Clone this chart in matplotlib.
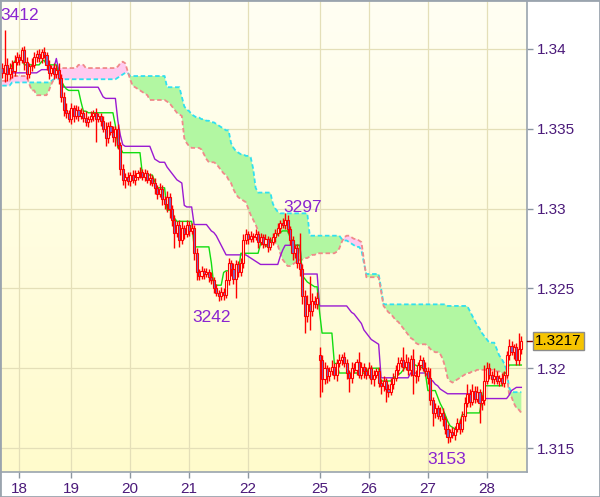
import matplotlib
matplotlib.use("Agg")
import matplotlib.pyplot as plt
import matplotlib.transforms as mtransforms
from matplotlib.patches import Rectangle
import numpy as np

# ---------------- data (prices in pips: 3385 -> 1.3385) ----------------
closes = [
    3385, 3390, 3384, 3388, 3386, 3392, 3395, 3393, 3399, 3392,
    3384, 3389, 3390, 3395, 3397, 3394, 3398, 3396, 3390, 3385,
    3388, 3384, 3387, 3382, 3370, 3362, 3360, 3356, 3363, 3358,
    3362, 3358, 3360, 3357, 3354, 3356, 3358, 3360, 3356, 3358,
    3355, 3350, 3344, 3352, 3348, 3345, 3350, 3340, 3325, 3318,
    3320, 3317, 3321, 3318, 3320, 3322, 3323, 3320, 3322, 3318,
    3319, 3316, 3313, 3309, 3312, 3306, 3303, 3307, 3300, 3293,
    3285, 3290, 3280, 3288, 3284, 3290, 3286, 3288, 3272, 3260,
    3258, 3261, 3259, 3260, 3257, 3255, 3250, 3247, 3245, 3248,
    3246, 3255, 3266, 3262, 3256, 3265, 3260, 3266, 3280, 3284,
    3281, 3283, 3282, 3284, 3279, 3282, 3278, 3281, 3276, 3279,
    3282, 3285, 3288, 3291, 3290, 3293, 3287, 3280, 3272, 3275,
    3266, 3262, 3245, 3233, 3240, 3236, 3242, 3240, 3244, 3205,
    3193, 3200, 3195, 3198, 3201, 3196, 3203, 3205, 3207, 3203,
    3197, 3194, 3200, 3199, 3204, 3196, 3201, 3198, 3196, 3200,
    3193, 3196, 3198, 3191, 3189, 3192, 3187, 3185, 3190, 3194,
    3199, 3203, 3205, 3201, 3204, 3199, 3206, 3196, 3195, 3202,
    3205, 3200, 3198, 3194, 3180, 3172, 3175, 3170, 3172, 3168,
    3162, 3157, 3160, 3158, 3162, 3166, 3162, 3170, 3178, 3184,
    3179, 3186, 3181, 3185, 3178, 3180, 3192, 3200, 3196, 3193,
    3195, 3192, 3194, 3191, 3196, 3208, 3214, 3210, 3213, 3205,
    3212, 3217,
]
first_open = 3388
gap_open = {129: 3208}   # monday open after the weekend gap

wick_up = [
    3, 22, 4, 3, 5, 4, 3, 2, 2, 3,
    3, 2, 4, 3, 2, 3, 2, 3, 2, 3,
    2, 3, 3, 4, 2, 3, 4, 2, 3, 2,
    3, 2, 3, 2, 4, 2, 3, 2, 3, 2,
    2, 3, 4, 2, 3, 4, 2, 3, 2, 3,
    2, 3, 2, 3, 4, 2, 3, 2, 3, 2,
    3, 2, 3, 2, 4, 3, 2, 4, 3, 2,
    3, 2, 3, 4, 2, 3, 2, 3, 2, 3,
    2, 3, 2, 3, 2, 3, 2, 3, 2, 3,
    2, 6, 3, 2, 4, 3, 2, 3, 4, 3,
    2, 3, 2, 3, 2, 3, 2, 3, 2, 3,
    3, 2, 3, 2, 3, 4, 3, 2, 3, 2,
    3, 19, 3, 4, 6, 18, 5, 3, 4, 5,
    3, 4, 2, 3, 4, 2, 3, 4, 2, 3,
    3, 2, 4, 3, 2, 6, 3, 2, 3, 4,
    2, 3, 2, 3, 2, 3, 2, 3, 4, 3,
    3, 4, 2, 8, 5, 3, 2, 6, 3, 2,
    3, 2, 4, 3, 6, 2, 3, 2, 4, 3,
    2, 3, 2, 3, 2, 3, 2, 3, 4, 6,
    3, 4, 3, 4, 2, 3, 10, 4, 3, 2,
    5, 3, 2, 3, 2, 3, 4, 3, 2, 3,
    10, 3,
]
wick_dn = [
    3, 6, 4, 3, 4, 3, 2, 3, 2, 5,
    3, 2, 3, 2, 3, 2, 3, 2, 3, 4,
    2, 3, 2, 4, 3, 4, 3, 2, 3, 4,
    2, 3, 2, 3, 2, 3, 2, 3, 14, 2,
    3, 2, 5, 3, 2, 3, 6, 3, 4, 3,
    5, 2, 3, 2, 3, 2, 3, 2, 3, 2,
    3, 2, 4, 3, 2, 4, 3, 5, 6, 4,
    10, 3, 4, 2, 3, 2, 3, 2, 4, 5,
    3, 2, 3, 2, 3, 2, 3, 2, 3, 2,
    3, 2, 3, 4, 3, 12, 3, 2, 3, 2,
    3, 2, 3, 2, 4, 2, 3, 2, 3, 2,
    2, 3, 2, 3, 2, 3, 2, 3, 4, 3,
    3, 4, 5, 11, 4, 12, 3, 2, 3, 23,
    8, 3, 4, 3, 2, 3, 4, 2, 3, 2,
    4, 9, 3, 2, 3, 2, 3, 4, 3, 2,
    3, 4, 2, 3, 5, 3, 8, 3, 2, 3,
    2, 3, 2, 3, 2, 3, 4, 12, 4, 3,
    3, 2, 3, 4, 3, 8, 3, 2, 3, 4,
    3, 4, 3, 2, 3, 2, 3, 2, 3, 2,
    3, 2, 3, 2, 12, 4, 3, 2, 3, 2,
    3, 2, 3, 2, 3, 2, 3, 2, 4, 3,
    3, 3,
]

tenkan = [
    3387, 3387, 3387, 3387, 3390, 3392, 3394, 3394, 3394, 3390,
    3390, 3390, 3390, 3390, 3390, 3390, 3392, 3393, 3390, 3390,
    3390, 3390, 3390, 3384, 3380, 3377, 3375, 3374, 3374, 3374,
    3374, 3374, 3367, 3361, 3361, 3360, 3360, 3360, 3360, 3360,
    3360, 3360, 3360, 3360, 3360, 3360, 3352, 3338, 3338, 3335,
    3335, 3335, 3335, 3335, 3335, 3335, 3335, 3321, 3321, 3321,
    3321, 3321, 3317, 3313, 3313, 3313, 3313, 3299, 3299, 3299,
    3294, 3292, 3292, 3292, 3292, 3292, 3292, 3292, 3276, 3276,
    3276, 3276, 3276, 3276, 3276, 3266, 3252, 3252, 3252, 3252,
    3260, 3261, 3261, 3261, 3261, 3261, 3261, 3272, 3272, 3272,
    3272, 3272, 3272, 3272, 3272, 3278, 3278, 3277, 3276, 3279,
    3281, 3282, 3284, 3285, 3286, 3286, 3286, 3282, 3280, 3277,
    3277, 3277, 3258, 3256, 3254, 3253, 3252, 3251, 3251, 3235,
    3222, 3222, 3222, 3222, 3222, 3203, 3203, 3197, 3197, 3197,
    3197, 3197, 3197, 3197, 3197, 3197, 3197, 3197, 3197, 3200,
    3200, 3200, 3200, 3200, 3192, 3192, 3192, 3192, 3192, 3194,
    3195, 3196, 3197, 3199, 3201, 3202, 3202, 3202, 3202, 3201,
    3201, 3200, 3197, 3186, 3186, 3186, 3186, 3182, 3178, 3175,
    3171, 3167, 3164, 3163, 3162, 3162, 3166, 3171, 3171, 3172,
    3172, 3172, 3172, 3172, 3172, 3180, 3189, 3189, 3189, 3189,
    3189, 3189, 3189, 3189, 3197, 3197, 3202, 3202, 3202, 3202,
    3202, 3202,
]
kijun = [
    3385, 3385, 3385, 3385, 3385, 3385, 3385, 3385, 3385, 3385,
    3385, 3385, 3385, 3385, 3385, 3386, 3387, 3387, 3387, 3387,
    3387, 3388, 3394, 3386, 3380, 3376, 3376, 3376, 3376, 3376,
    3376, 3376, 3376, 3376, 3376, 3376, 3376, 3376, 3376, 3376,
    3373, 3370, 3369, 3369, 3369, 3369, 3369, 3355, 3346, 3340,
    3339, 3339, 3339, 3339, 3339, 3339, 3339, 3339, 3339, 3339,
    3339, 3335, 3331, 3330, 3329, 3329, 3329, 3326, 3324, 3322,
    3320, 3318, 3317, 3316, 3302, 3301, 3301, 3301, 3290, 3290,
    3290, 3290, 3290, 3290, 3288, 3286, 3285, 3283, 3280, 3277,
    3274, 3271, 3271, 3271, 3271, 3271, 3271, 3271, 3271, 3271,
    3270, 3269, 3268, 3267, 3266, 3265, 3265, 3265, 3265, 3265,
    3265, 3265, 3265, 3270, 3274, 3277, 3277, 3277, 3277, 3277,
    3277, 3277, 3259, 3259, 3259, 3259, 3259, 3259, 3259, 3239,
    3239, 3239, 3239, 3239, 3239, 3239, 3239, 3239, 3239, 3239,
    3239, 3237, 3235, 3234, 3232, 3230, 3228, 3224, 3222, 3220,
    3218, 3217, 3216, 3215, 3194, 3194, 3194, 3194, 3194, 3194,
    3194, 3194, 3194, 3194, 3194, 3194, 3197, 3197, 3197, 3197,
    3197, 3197, 3197, 3195, 3193, 3192, 3190, 3189, 3187, 3186,
    3185, 3184, 3184, 3184, 3184, 3184, 3184, 3184, 3184, 3184,
    3184, 3184, 3184, 3184, 3184, 3181, 3181, 3181, 3181, 3181,
    3181, 3181, 3181, 3181, 3181, 3181, 3183, 3186, 3187, 3188,
    3188, 3188,
]
span_a = [
    3377, 3377, 3377, 3377, 3379, 3379, 3379, 3379, 3379, 3379,
    3379, 3379, 3379, 3379, 3379, 3379, 3379, 3379, 3379, 3379,
    3380, 3381, 3381, 3381, 3381, 3381, 3381, 3381, 3381, 3381,
    3381, 3381, 3381, 3381, 3381, 3381, 3381, 3381, 3381, 3381,
    3381, 3381, 3381, 3381, 3381, 3381, 3381, 3382, 3383, 3384,
    3385, 3385, 3383, 3383, 3383, 3383, 3383, 3383, 3383, 3383,
    3383, 3383, 3383, 3383, 3383, 3383, 3383, 3376, 3376, 3376,
    3376, 3376, 3376, 3370, 3364, 3362, 3361, 3359, 3358, 3357,
    3357, 3356, 3356, 3355, 3355, 3354, 3354, 3353, 3352, 3351,
    3350, 3349, 3349, 3341, 3338, 3336, 3335, 3334, 3334, 3333,
    3333, 3332, 3325, 3313, 3310, 3310, 3310, 3310, 3310, 3310,
    3303, 3300, 3298, 3297, 3297, 3297, 3297, 3297, 3297, 3297,
    3297, 3297, 3297, 3297, 3297, 3283, 3283, 3283, 3283, 3283,
    3283, 3283, 3283, 3283, 3283, 3283, 3283, 3283, 3281, 3280,
    3280, 3279, 3278, 3277, 3276, 3276, 3274, 3266, 3259, 3259,
    3259, 3259, 3259, 3259, 3250, 3240, 3240, 3240, 3240, 3240,
    3240, 3240, 3240, 3240, 3240, 3240, 3240, 3240, 3240, 3240,
    3240, 3240, 3240, 3240, 3240, 3240, 3240, 3240, 3240, 3240,
    3240, 3239, 3239, 3239, 3239, 3239, 3239, 3239, 3239, 3239,
    3236, 3233, 3230, 3227, 3225, 3222, 3220, 3218, 3216, 3216,
    3216, 3212, 3208, 3206, 3203, 3199, 3188, 3185, 3185, 3185,
    3185, 3185,
]
span_b = [
    3380, 3380, 3380, 3380, 3383, 3383, 3383, 3383, 3383, 3383,
    3383, 3378, 3374, 3374, 3371, 3371, 3371, 3371, 3371, 3374,
    3378, 3381, 3384, 3388, 3388, 3388, 3388, 3388, 3388, 3388,
    3388, 3390, 3390, 3390, 3388, 3388, 3388, 3388, 3388, 3388,
    3388, 3388, 3388, 3388, 3388, 3388, 3388, 3389, 3391, 3392,
    3391, 3386, 3381, 3377, 3376, 3375, 3374, 3373, 3372, 3371,
    3368, 3368, 3368, 3368, 3368, 3368, 3368, 3367, 3366, 3364,
    3362, 3360, 3359, 3358, 3344, 3341, 3339, 3338, 3338, 3338,
    3338, 3337, 3334, 3331, 3329, 3329, 3329, 3328, 3326, 3324,
    3322, 3321, 3318, 3316, 3312, 3309, 3307, 3306, 3305, 3304,
    3300, 3296, 3293, 3290, 3286, 3279, 3279, 3279, 3279, 3279,
    3279, 3278, 3277, 3272, 3268, 3266, 3264, 3264, 3265, 3266,
    3267, 3268, 3268, 3269, 3269, 3270, 3271, 3271, 3272, 3272,
    3272, 3272, 3272, 3272, 3272, 3272, 3273, 3275, 3279, 3282,
    3283, 3283, 3282, 3281, 3281, 3280, 3279, 3268, 3257, 3257,
    3257, 3257, 3257, 3257, 3248, 3239, 3237, 3235, 3234, 3232,
    3230, 3229, 3227, 3225, 3223, 3221, 3219, 3218, 3216, 3215,
    3215, 3215, 3215, 3214, 3212, 3211, 3210, 3210, 3209, 3206,
    3201, 3194, 3192, 3191, 3192, 3193, 3194, 3195, 3196, 3197,
    3197, 3198, 3198, 3199, 3199, 3199, 3199, 3199, 3199, 3199,
    3199, 3198, 3198, 3197, 3197, 3197, 3184, 3182, 3178, 3175,
    3174, 3172,
]

day_ticks = [7, 28, 52, 76, 100, 129, 149, 173, 197]
day_labels = ["18", "19", "20", "21", "22", "25", "26", "27", "28"]
price_ticks = [1.315, 1.32, 1.325, 1.33, 1.335, 1.34]
price_labels = ["1.315", "1.32", "1.325", "1.33", "1.335", "1.34"]
# (bar index, kind) of the extremes that carry a price label
marked = [(1, "high"), (115, "high"), (88, "low"), (181, "low")]

# ---------------- build ohlc ----------------
pip = 0.0001
c = np.array(closes) * pip + 1.0
o = np.empty_like(c)
o[0] = first_open * pip + 1.0
o[1:] = c[:-1]
for k, v in gap_open.items():
    o[k] = v * pip + 1.0
hi = np.maximum(o, c) + np.array(wick_up) * pip
lo = np.minimum(o, c) - np.array(wick_dn) * pip
x = np.arange(len(c))

ten = np.array(tenkan) * pip + 1.0
kij = np.array(kijun) * pip + 1.0
sa = np.array(span_a) * pip + 1.0
sb = np.array(span_b) * pip + 1.0

# ---------------- figure ----------------
fig = plt.figure(figsize=(6.0, 4.97), dpi=100)
ax = fig.add_axes([0.0, 25 / 497, 527 / 600, 471 / 497])
ax.set_xlim(-0.9, 213.3)
ax.set_ylim(1.3135, 1.3430)

# background gradient
grad = np.linspace(0, 1, 256).reshape(-1, 1)
top = np.array([1.0, 1.0, 0.955])
bot = np.array([1.0, 0.985, 0.80])
img = top + (bot - top) * grad[:, :, None].repeat(1, axis=1)
ax.imshow(img, extent=[-0.9, 213.3, 1.3135, 1.3430], aspect="auto",
          origin="upper", zorder=0)

for t in day_ticks:
    ax.axvline(t, color="#e4dfb8", lw=0.9, zorder=1)
for p in price_ticks:
    ax.axhline(p, color="#e4dfb8", lw=0.9, zorder=1)

# cloud
ax.fill_between(x, sa, sb, where=sa >= sb, interpolate=True,
                color="#b2f7a2", lw=0, zorder=2)
ax.fill_between(x, sa, sb, where=sa < sb, interpolate=True,
                color="#ffcaf0", lw=0, zorder=2)
ax.plot(x, sa, color="#30e0f0", lw=1.3, ls=(0, (2.5, 1.5)), zorder=3)
ax.plot(x, sb, color="#f08a8a", lw=1.3, ls=(0, (2.5, 1.5)), zorder=3)

# tenkan / kijun
ax.plot(x, kij, color="#9a1ad2", lw=1.0, zorder=4)
ax.plot(x, ten, color="#11dd11", lw=1.0, zorder=4)

# candles
ax.vlines(x, lo, hi, color="#ff0000", lw=1.0, zorder=5)
bear = c < o
body_lo = np.minimum(o, c)
body_h = np.maximum(np.abs(c - o), 0.00004)
face = np.where(bear, "#7b6cc4", "#fffbe0")
ax.bar(x, body_h, bottom=body_lo, width=0.85, color=face,
       edgecolor="#ff0000", linewidth=0.8, zorder=6)

# extreme labels
lab_col = "#8a24d0"
lab_size = 12.5
for idx, kind in marked:
    if kind == "high":
        val = hi[idx]
        txt = f"{round(val * 10000) % 10000:04d}"
        if idx < 5:
            ax.text(-0.7, val + 0.00045, txt, ha="left", va="bottom",
                    color=lab_col, fontsize=lab_size, family="Liberation Sans", zorder=7)
        else:
            ax.text(idx + 7.3, val - 0.0001, txt, ha="center", va="bottom",
                    color=lab_col, fontsize=lab_size, family="Liberation Sans", zorder=7)
    else:
        val = lo[idx]
        txt = f"{round(val * 10000) % 10000:04d}"
        off = -2.7 if idx < 100 else -0.2
        ax.text(idx + off, val - 0.00055, txt, ha="center", va="top",
                color=lab_col, fontsize=lab_size, family="Liberation Sans", zorder=7)

# axes styling
ax.yaxis.tick_right()
ax.set_yticks(price_ticks)
ax.set_yticklabels(price_labels)
ax.set_xticks(day_ticks)
ax.set_xticklabels(day_labels)
ax.tick_params(axis="both", colors="#8c96a0", length=4, width=1,
               labelsize=11, labelcolor="#4b1a7a", pad=3)
for lbl in ax.get_xticklabels() + ax.get_yticklabels():
    lbl.set_family("Liberation Sans")
for s in ("left", "top"):
    ax.spines[s].set_visible(False)
for s in ("right", "bottom"):
    ax.spines[s].set_color("#9aa4ae")
    ax.spines[s].set_linewidth(1.2)

# last price tag
last = c[-1]
trans = mtransforms.blended_transform_factory(ax.transAxes, ax.transData)
ax.plot([1.0, 1.0 + 5 / 527], [last, last], color="#800000", lw=1,
        transform=trans, clip_on=False, zorder=8)
ax.text(1.0 + 8 / 527, last, f"{last:.4f}", transform=trans, ha="left",
        va="center", fontsize=11, family="Liberation Sans", color="#000000",
        bbox=dict(boxstyle="square,pad=0.15", fc="#f6c400", ec="#8c8c8c", lw=1),
        clip_on=False, zorder=8)

# outer border
fig.patches.append(Rectangle((0, 0), 1, 1, transform=fig.transFigure,
                             fill=False, edgecolor="#9aa4ae", lw=2))

fig.savefig("out.png", dpi=100)
